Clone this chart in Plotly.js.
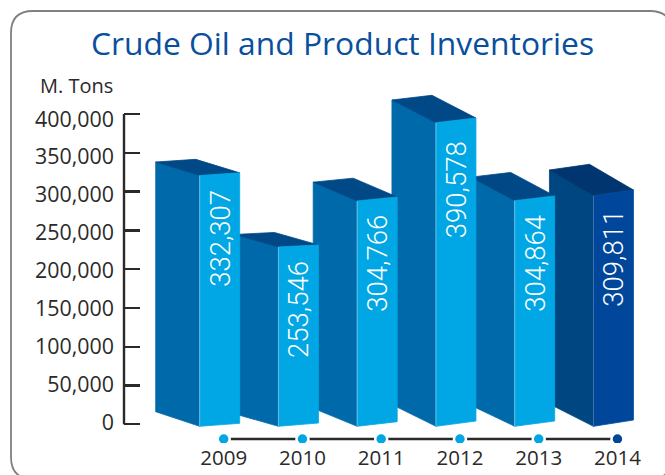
<!DOCTYPE html>
<html><head><meta charset="utf-8">
<script src="https://cdn.plot.ly/plotly-3.0.1.min.js"></script>
<style>html,body{margin:0;padding:0;background:#fff;overflow:hidden}</style>
</head><body><div id="chart" style="width:665px;height:475px"></div>
<script>
// ---- data ----
const years = [2009, 2010, 2011, 2012, 2013, 2014];
const inventories = [332307, 253546, 304766, 390578, 304864, 309811];
// height of each bar's front edge as it reads against the printed axis
const drawnHeights = [320700, 228600, 287900, 388800, 288300, 294700];
const yTicks = [0, 50000, 100000, 150000, 200000, 250000, 300000, 350000, 400000];

// ---- pseudo-3D projection of the printed bars (in screen pixels) ----
const depthRiseTop = [13.5, 12.5, 18.8, 22.7, 23.5, 25.7];
const depthRiseBase = [14.6, 12.5, 18, 21.7, 21, 22.3];
const frontTiltTop = [2.7, 2, 4, 4.7, 4.7, 5.7];
const frontTiltBase = [3, 3.3, 4.6, 5.3, 5.3, 6.3];
const faceColors = {
  normal: {front: '#00a7e4', side: '#0069aa', top: '#004886', edge: '#7fc4e6'},
  last: {front: '#00479b', side: '#004681', top: '#00356f', edge: '#4f7fb5'}
};

// ---- layout constants ----
const W = 665, H = 475;
const M = {l: 124, r: 15, t: 80, b: 32};
const pxPerYear = 78.75, year0Px = 223.7;
const pxPerUnit = 310.3 / 400000, zeroPx = 424.3;
// the printed tick labels sit on a slightly tighter scale than the tick marks
const labelPxPerUnit = 303.7 / 400000, labelZeroPx = 422.7;
const xRange = [years[0] - (year0Px - M.l) / pxPerYear, years[0] + (W - M.r - year0Px) / pxPerYear];
const yRange = [(zeroPx - (H - M.b)) / pxPerUnit, (zeroPx - M.t) / pxPerUnit];
const y2Range = [(labelZeroPx - (H - M.b)) / labelPxPerUnit, (labelZeroPx - M.t) / labelPxPerUnit];
const dX = p => p / pxPerYear, dY = p => p / pxPerUnit;
const paperX = x => (x - M.l) / (W - M.l - M.r);
const paperY = y => 1 - (y - M.t) / (H - M.t - M.b);

const frontLeftOffset = dX(-24), frontWidth = dX(40), depth = dX(44), baseY = dY(-2);
const traces = [];
const poly = (xs, ys, color, line) => traces.push({
  x: xs.concat(xs[0]), y: ys.concat(ys[0]), mode: 'lines', fill: 'toself', fillcolor: color,
  line: {color: line || color, width: 0.8}, hoverinfo: 'skip', showlegend: false, cliponaxis: false
});

// right-to-left so each bar overlaps its right-hand neighbour
for (let i = years.length - 1; i >= 0; i--) {
  const c = i === years.length - 1 ? faceColors.last : faceColors.normal;
  const xl = years[i] + frontLeftOffset, xr = xl + frontWidth, xb = xl - depth;
  const h = drawnHeights[i];
  const rt = dY(depthRiseTop[i]), rb = dY(depthRiseBase[i]);
  const tt = dY(frontTiltTop[i]), tb = dY(frontTiltBase[i]);
  poly([xb, xl, xl, xb], [baseY + rb, baseY, h, h + rt], c.side);
  poly([xb, xl, xr, xr - depth], [h + rt, h, h + tt, h + tt + rt], c.top);
  poly([xl, xr, xr, xl], [baseY, baseY + tb, h + tt, h], c.front);
  traces.push({x: [xl, xl], y: [baseY, h], mode: 'lines', line: {color: c.edge, width: 0.8},
    hoverinfo: 'skip', showlegend: false});
}

const timelineY = dY(zeroPx - 439);
traces.push({x: years, y: years.map(() => timelineY), mode: 'lines',
  line: {color: '#2b2a29', width: 2.4}, hoverinfo: 'skip', showlegend: false});
traces.push({x: years, y: years.map(() => timelineY), mode: 'markers',
  marker: {size: 12, color: years.map((_, i) => i === years.length - 1 ? faceColors.last.front : faceColors.normal.front),
    line: {color: '#ffffff', width: 2.5}}, hoverinfo: 'skip', showlegend: false});
// invisible trace that makes the tick-label axis exist
traces.push({x: [years[0]], y: [0], yaxis: 'y2', mode: 'markers', marker: {opacity: 0, size: 1},
  hoverinfo: 'skip', showlegend: false});

const labelFont = {family: 'Roboto, sans-serif', size: 27.5, color: '#ffffff', weight: 300};
const annotations = years.map((yr, i) => ({
  x: yr + frontLeftOffset + frontWidth / 2, y: drawnHeights[i], xref: 'x', yref: 'y',
  text: inventories[i].toLocaleString('en-US'), showarrow: false, textangle: -90,
  xanchor: 'center', yanchor: 'top', yshift: i === 3 ? -16 : -12, font: labelFont
}));
annotations.push({
  text: 'M. Tons', showarrow: false, xref: 'paper', x: 0, xshift: -9, xanchor: 'right',
  yref: 'paper', y: paperY(85), yanchor: 'middle',
  font: {family: 'Open Sans, sans-serif', size: 20, color: '#2b2a29'}
});

const r = 22, L = 11, T = 11, R = 672, B = 479;
const pt = (x, y) => paperX(x) + ',' + paperY(y);
const cardPath = 'M' + pt(L + r, T) + ' L' + pt(R - r, T) + ' Q' + pt(R, T) + ' ' + pt(R, T + r) +
  ' L' + pt(R, B - r) + ' Q' + pt(R, B) + ' ' + pt(R - r, B) + ' L' + pt(L + r, B) +
  ' Q' + pt(L, B) + ' ' + pt(L, B - r) + ' L' + pt(L, T + r) + ' Q' + pt(L, T) + ' ' + pt(L + r, T) + ' Z';

Plotly.newPlot('chart', traces, {
  width: W, height: H, margin: M, paper_bgcolor: '#fff', plot_bgcolor: 'rgba(0,0,0,0)', showlegend: false,
  title: {text: 'Crude Oil and Product Inventories', x: 342.5 / W, xanchor: 'center', y: 1 - 44 / H, yanchor: 'middle',
    font: {family: 'Open Sans, sans-serif', size: 31.8, color: '#0a4f9e'}},
  xaxis: {range: xRange, tickvals: years, ticktext: years.map(String), showgrid: false, zeroline: false, showline: false,
    ticks: '', ticklen: 0, tickfont: {family: 'Open Sans, sans-serif', size: 20.5, color: '#2b2a29'}, fixedrange: true},
  yaxis: {range: yRange, tickvals: yTicks, showticklabels: false, showgrid: false, zeroline: false, showline: false,
    ticks: 'inside', ticklen: 16, tickwidth: 2.4, tickcolor: '#2b2a29', fixedrange: true},
  yaxis2: {overlaying: 'y', side: 'left', range: y2Range, tickvals: yTicks, tickformat: ',d', showgrid: false,
    zeroline: false, showline: false, ticks: '', ticklabelstandoff: 9,
    tickfont: {family: 'Open Sans, sans-serif', size: 21.4, color: '#2b2a29'}, fixedrange: true},
  shapes: [
    {type: 'path', xref: 'paper', yref: 'paper', path: cardPath, line: {color: '#808080', width: 1.8}, layer: 'below'},
    {type: 'line', xref: 'paper', yref: 'y', x0: 0, x1: 0, y0: 0, y1: 400000, line: {color: '#2b2a29', width: 2.4}}
  ],
  annotations: annotations
}, {displayModeBar: false, staticPlot: true});
</script></body></html>
